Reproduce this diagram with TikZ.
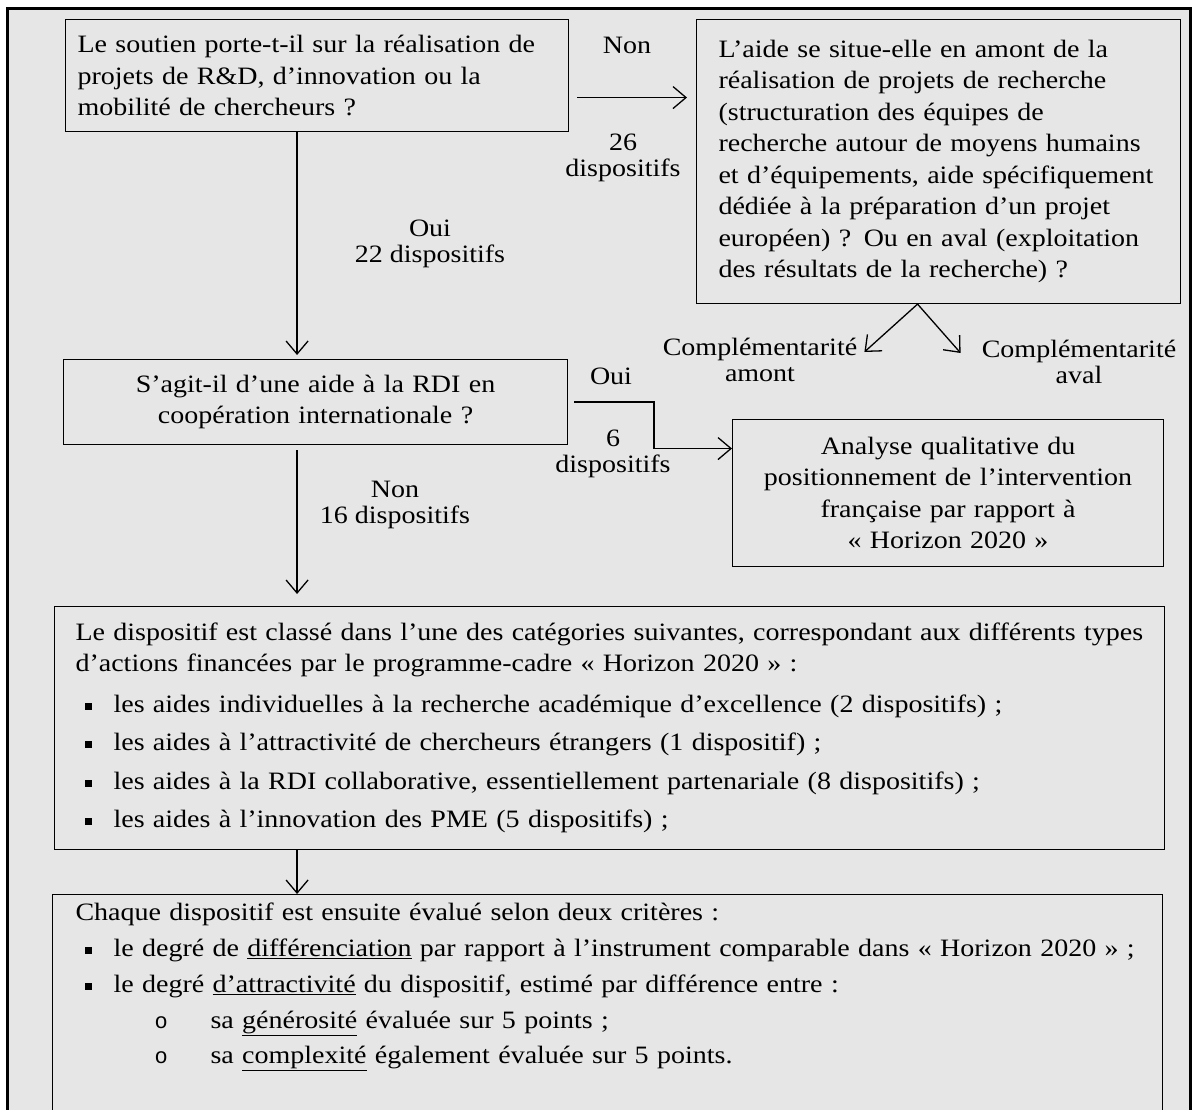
\documentclass[tikz,border=0pt]{standalone}
\usepackage{fontspec}
\setmainfont{Liberation Serif}[FakeStretch=1.12]
\newfontfamily\policepuce{Liberation Mono}
\usetikzlibrary{arrows.meta,calc,positioning}

\definecolor{fondgris}{RGB}{230,230,230}
\newcommand{\puce}{\makebox[38pt][l]{\hspace*{9.5pt}\rule[2.5pt]{7pt}{7pt}}}
\newcommand{\souspuce}{\makebox[135pt][l]{\hspace*{79pt}{\policepuce\fontsize{22pt}{22pt}\selectfont o}}}

\begin{document}
\begin{tikzpicture}[x=1pt, y=-1pt, >={Straight Barb[length=13pt,width=22pt]},
	boite/.style={draw, line width=1.1pt, inner xsep=12pt, inner ysep=0pt, anchor=north west,
		font=\fontsize{25pt}{31.5pt}\selectfont},
	etiq/.style={align=center, inner sep=2pt, font=\fontsize{25pt}{26pt}\selectfont},
	fleche/.style={->, line width=1.3pt}]
			
			\useasboundingbox (0,0) rectangle (1192,1110);
			\fill[fondgris] (7.5,9) rectangle (1190,1120);
			\draw[line width=3pt] (7.5,1120) -- (7.5,9) -- (1190,9) -- (1190,1120);
			
			\node[boite, minimum width=503pt, minimum height=112pt, text width=479pt, align=left]
			(soutien) at (65,19) {Le soutien porte-t-il sur la réalisation de\\
				projets de R\&D, d’innovation ou la\\
				mobilité de chercheurs~?};
			
			\node[boite, minimum width=484pt, minimum height=284pt, inner xsep=22pt, text width=440pt, align=left]
			(aide) at (696,19) {L’aide se situe-elle en amont de la\\
				réalisation de projets de recherche\\
				(structuration des équipes de\\
				recherche autour de moyens humains\\
				et d’équipements, aide spécifiquement\\
				dédiée à la préparation d’un projet\\
				européen)~? Ou en aval (exploitation\\
				des résultats de la recherche)~?};
			
			\node[boite, minimum width=504pt, minimum height=85pt, text width=480pt, align=center]
			(cooperation) at (63,359) {S’agit-il d’une aide à la RDI en\\
				coopération internationale~?};
			
			\node[boite, minimum width=431pt, minimum height=147pt, text width=407pt, align=center]
			(analyse) at (732,419) {Analyse qualitative du\\
				positionnement de l’intervention\\
				française par rapport à\\
				«~Horizon 2020~»};
			
			\node[boite, minimum width=1110pt, minimum height=243pt, inner xsep=21pt, text width=1068pt, align=left]
			(categories) at (54,606) {Le dispositif est classé dans l’une des catégories suivantes, correspondant aux différents types\\
				d’actions financées par le programme-cadre «~Horizon 2020~»~:\\[9pt]
				\puce les aides individuelles à la recherche académique d’excellence (2 dispositifs)~;\\[7pt]
				\puce les aides à l’attractivité de chercheurs étrangers (1 dispositif)~;\\[7pt]
				\puce les aides à la RDI collaborative, essentiellement partenariale (8 dispositifs)~;\\[7pt]
				\puce les aides à l’innovation des PME (5 dispositifs)~;};
			
			\node[boite, minimum width=1110pt, inner xsep=23pt, inner ysep=8pt, text width=1064pt, align=left]
			(criteres) at (52,894) {Chaque dispositif est ensuite évalué selon deux critères~:\\[4.5pt]
				\puce le degré de \underline{différenciation} par rapport à l’instrument comparable dans «~Horizon 2020~»~;\\[4.5pt]
				\puce le degré \underline{d’attractivité} du dispositif, estimé par différence entre~:\\[5pt]
				\souspuce sa \underline{générosité} évaluée sur 5 points~;\\[3.5pt]
				\souspuce sa \underline{complexité} également évaluée sur 5 points.\\[60pt]\mbox{}};
			
			\node[etiq] (nonA) at (627,45) {Non};
			\node[etiq] (nonB) at (623,158) {26\\dispositifs};
			\node[etiq] (ouiA) at (430,244) {Oui\\22 dispositifs};
			\node[etiq] (ouiB) at (611,376) {Oui};
			\node[etiq] (ouiC) at (613,454) {6\\dispositifs};
			\node[etiq] (nonC) at (395,505) {Non\\16 dispositifs};
			\node[etiq] (amont) at (760,360) {Complémentarité\\amont};
			\node[etiq] (aval) at (1079,362) {Complémentarité\\aval};
			
			\coordinate (axe) at ([xshift=-20pt]soutien.south);
			\coordinate (depNon) at ([yshift=-22pt]soutien.east);
			\coordinate (arrOui) at ([yshift=44.5pt]analyse.west);
			\coordinate (sommet) at ([xshift=-21pt]aide.south);
			
			\draw[fleche, shorten >=4pt] (soutien.south -| axe) -- (cooperation.north -| axe);
			\draw[fleche, shorten <=5pt, shorten >=12pt] (cooperation.south -| axe) -- (categories.north -| axe);
			\draw[fleche] (categories.south -| axe) -- (criteres.north -| axe);
			\draw[fleche, shorten <=8pt, shorten >=9pt] (depNon) -- (depNon -| aide.west);
			\draw[fleche, shorten <=6pt] (cooperation.east) -- ++(86,0) |- (arrOui);
			\draw[fleche] (sommet) -- ([xshift=5pt,yshift=8pt]amont.east);
			\draw[fleche] (sommet) -- ([xshift=-19pt,yshift=9pt]aval.west);
			
\end{tikzpicture}
\end{document}
